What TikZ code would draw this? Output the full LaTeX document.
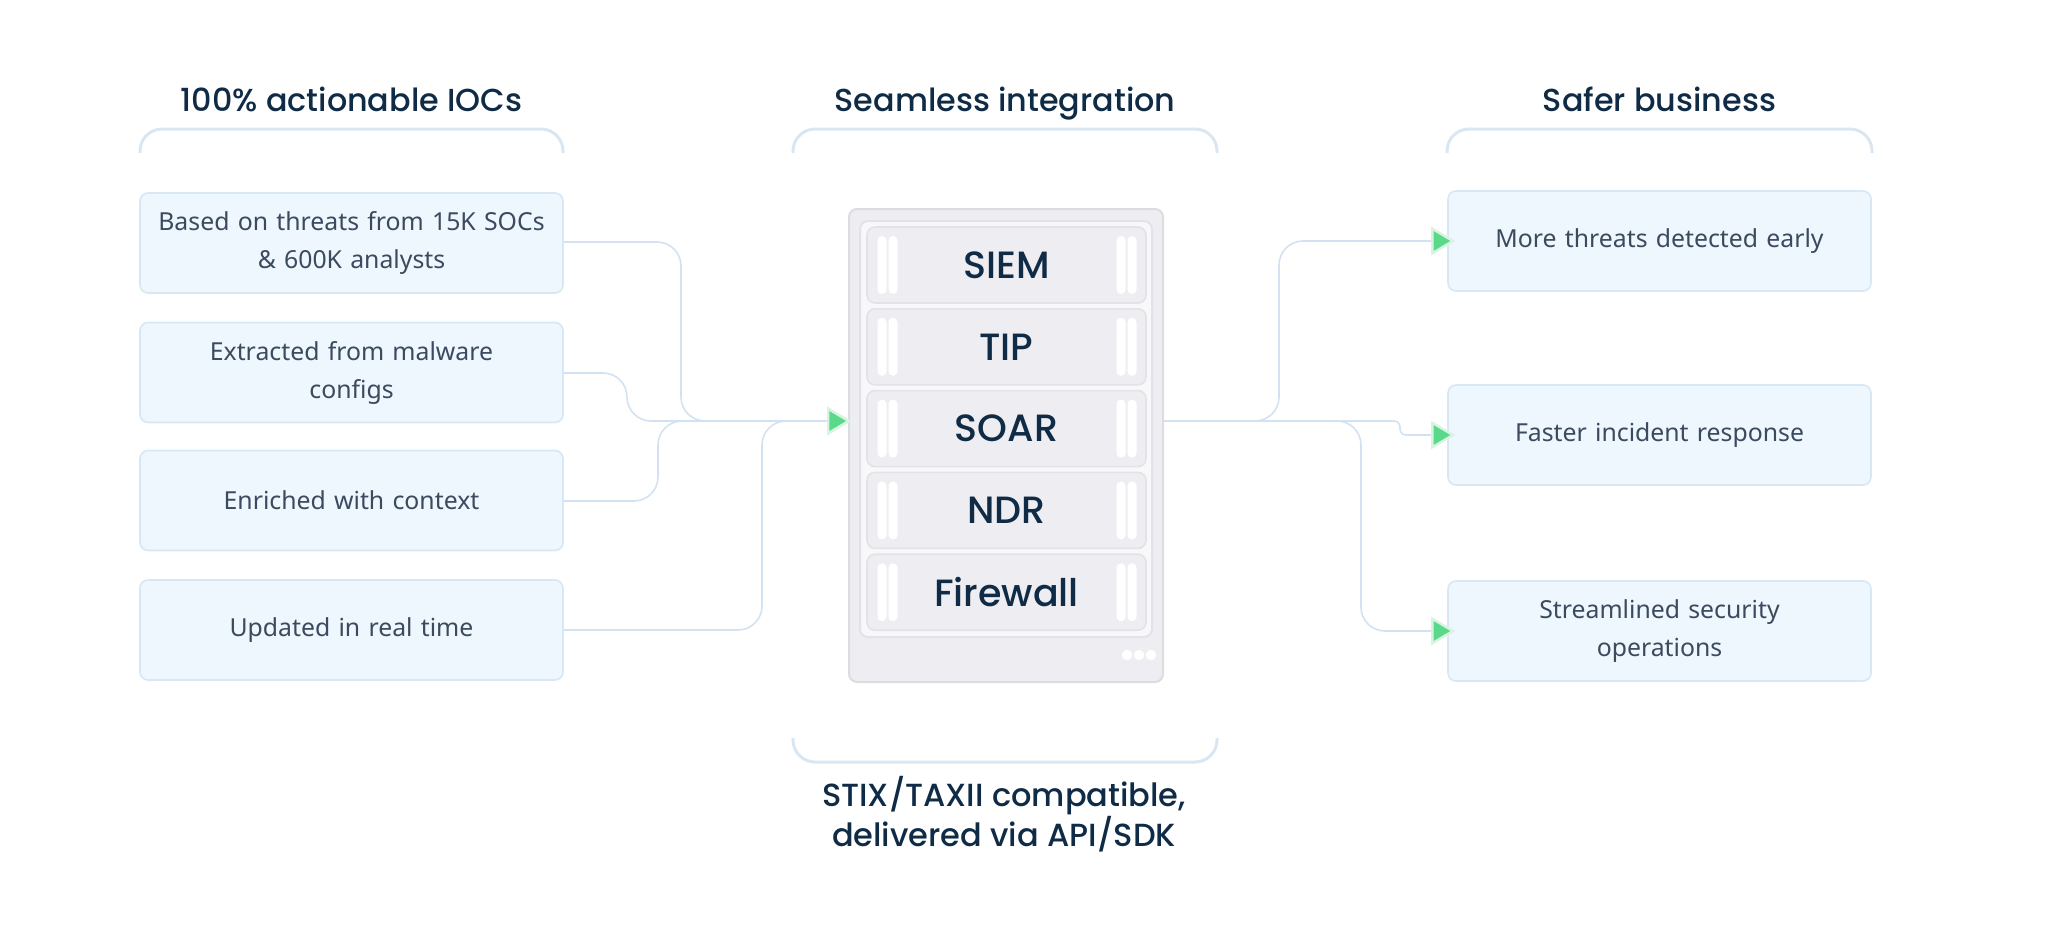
\documentclass[tikz,border=0pt]{standalone}
\usepackage{fontspec}
\setmainfont{Noto Sans}
\newfontfamily\headfont{Poppins Medium}
\usetikzlibrary{arrows.meta}

\definecolor{navy}{HTML}{0F2B46}
\definecolor{cardtext}{HTML}{3B4A5E}
\definecolor{cardfill}{HTML}{EEF6FE}
\definecolor{cardline}{HTML}{D8E7F4}
\definecolor{bracecol}{HTML}{DAE6F2}
\definecolor{conncol}{HTML}{D3E2F2}
\definecolor{srvfill}{HTML}{EEEEF2}
\definecolor{srvline}{HTML}{DCDCE1}
\definecolor{panelfill}{HTML}{F8F8FA}
\definecolor{slotline}{HTML}{E3E3E7}
\definecolor{arrgreen}{HTML}{5BD98B}
\definecolor{arrhalo}{HTML}{D7F4E1}

\begin{document}
\begin{tikzpicture}[x=0.5pt, y=-0.5pt]
    \tikzset{card/.style={rectangle, draw=cardline, fill=cardfill, line width=0.8pt, rounded corners=4pt, minimum width=211.5pt, minimum height=50pt, text width=200pt, align=center, text=cardtext, font=\fontsize{12.4}{19}\selectfont},
        head/.style={text=navy, anchor=base, font=\headfont\fontsize{15.9}{20}\selectfont},
        brace/.style={draw=bracecol, line width=1.5pt, rounded corners=11pt},
        conn/.style={draw=conncol, line width=0.8pt, rounded corners=12pt, -{Triangle[length=12pt, width=14pt, color=arrhalo, fill=arrgreen, line width=1.2pt]}},
        srvbox/.style={rectangle, draw=srvline, fill=srvfill, line width=1pt, rounded corners=4pt},
        slot/.style={rectangle, draw=slotline, fill=srvfill, line width=0.8pt, rounded corners=4pt, minimum width=139.5pt, minimum height=38pt, text=navy, font=\headfont\fontsize{19}{22}\selectfont},
        rail/.style={fill=white, rounded corners=2.2pt}};
    \useasboundingbox (0,0) rectangle (2048,927);

    % headings and brackets
    \node[head] (hleft) at (351.5,111) {100\% actionable IOCs};
    \node[head] (hmid) at (1005,111) {Seamless integration};
    \node[head] (hright) at (1659.5,111) {Safer business};
    \foreach \xa/\xb in {140/563, 793/1217, 1447/1872}
        \draw[brace] (\xa,153) -- (\xa,129) -- (\xb,129) -- (\xb,153);
    \draw[brace] (793,738) -- (793,762) -- (1217,762) -- (1217,738);
    \node[text=navy, align=center, font=\headfont\fontsize{16}{18.5}\selectfont] (foot) at (1004,814) {STIX/TAXII compatible,\\delivered via API/SDK};

    % left cards
    \node[card] (l1) at (351.5,243) {Based on threats from 15K SOCs\\\& 600K analysts};
    \node[card] (l2) at (351.5,372.5) {Extracted from malware\\configs};
    \node[card] (l3) at (351.5,500.5) {Enriched with context};
    \node[card] (l4) at (351.5,630) {Updated in real time};

    % right cards
    \node[card] (r1) at (1659.5,241) {More threats detected early};
    \node[card] (r2) at (1659.5,435) {Faster incident response};
    \node[card] (r3) at (1659.5,631) {Streamlined security\\operations};

    % server
    \node[srvbox, minimum width=157pt, minimum height=236.5pt] (srv) at (1006,445.5) {};
    \node[srvbox, fill=panelfill, draw=slotline, minimum width=146pt, minimum height=208pt] (panel) at (1006,429) {};
    \foreach \lab [count=\i from 0] in {SIEM,TIP,SOAR,NDR,Firewall} {
        \node[slot] (s\i) at (1006.5,265+81.8*\i) {\lab};
        \foreach \x in {882,893,1121,1132}
            \fill[rail] (\x-4.5,265+81.8*\i-29) rectangle ++(9,58);
    }
    \foreach \x in {1127,1139,1151}
        \fill[white] (\x,655) circle (2.6pt);
    \coordinate (inL) at (851,421);
    \coordinate (outR) at (1163,421);

    % connectors
    \draw[conn] (l1.east |- 0,242) -| (681,421) -- (inL);
    \draw[conn] (l2.east |- 0,373) -| (627,421) -- (inL);
    \draw[conn] (l3.east |- 0,501) -| (658,421) -- (inL);
    \draw[conn] (l4.east) -| (762,421) -- (inL);
    \draw[conn, shorten >=-4pt] (outR) -- (1279,421) |- (r1.west);
    \draw[conn, shorten >=-4pt, rounded corners=3pt] (outR) -- (1400,421) |- (r2.west);
    \draw[conn, shorten >=-4pt] (outR) -- (1361,421) |- (r3.west);
\end{tikzpicture}
\end{document}
